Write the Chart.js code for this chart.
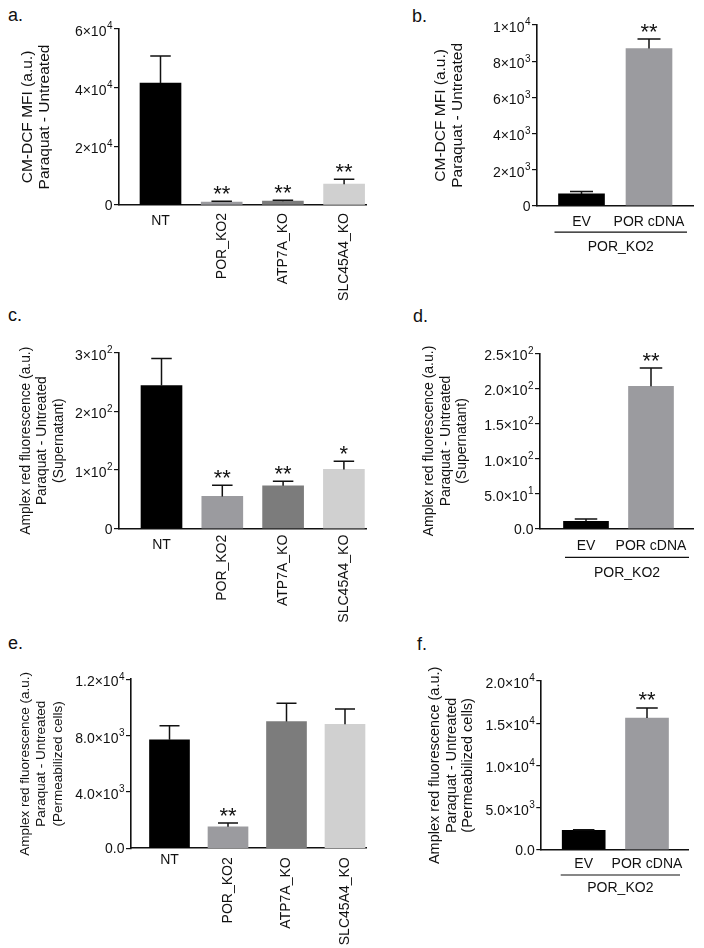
<!DOCTYPE html>
<html>
<head>
<meta charset="utf-8">
<script src="https://cdn.jsdelivr.net/npm/chart.js@4.4.1/dist/chart.umd.min.js"></script>
<style>
  body { margin: 0; background: #fff; width: 704px; height: 948px; position: relative; overflow: hidden;
         font-family: "Liberation Sans", Arial, sans-serif; }
  canvas { position: absolute; }
  .tag { position: absolute; font-size: 18px; line-height: 1; color: #111; }
</style>
</head>
<body>
<div class="tag" style="left:8px;top:6px">a.</div>
<div class="tag" style="left:412px;top:7px">b.</div>
<div class="tag" style="left:8px;top:306px">c.</div>
<div class="tag" style="left:413px;top:307px">d.</div>
<div class="tag" style="left:8px;top:634px">e.</div>
<div class="tag" style="left:417px;top:635px">f.</div>

<canvas id="chartA" width="400" height="320" style="left:0px;top:0px"></canvas>
<canvas id="chartB" width="304" height="300" style="left:400px;top:0px"></canvas>
<canvas id="chartC" width="400" height="330" style="left:0px;top:300px"></canvas>
<canvas id="chartD" width="304" height="320" style="left:400px;top:300px"></canvas>
<canvas id="chartE" width="400" height="328" style="left:0px;top:620px"></canvas>
<canvas id="chartF" width="304" height="328" style="left:400px;top:620px"></canvas>

<script>
const koLines = ["NT", "POR_KO2", "ATP7A_KO", "SLC45A4_KO"];
const rescue = ["EV", "POR cDNA"];
const rescueParent = "POR_KO2";
const koColors = ["#000000", "#9b9b9f", "#7c7c7c", "#d0d0d0"];
const rescueColors = ["#000000", "#9b9b9f"];

// a. CM-DCF MFI, knockouts
const aMean = [41600, 1000, 1300, 7100];
const aErr = [9200, 300, 300, 1700];
const aStars = ["", "**", "**", "**"];
const aTicks = [0, 20000, 40000, 60000];
const aTickLabels = ["0", "2×10^4", "4×10^4", "6×10^4"];

// b. CM-DCF MFI, rescue
const bMean = [650, 8700];
const bErr = [130, 520];
const bStars = ["", "**"];
const bTicks = [0, 2000, 4000, 6000, 8000, 10000];
const bTickLabels = ["0", "2×10^3", "4×10^3", "6×10^3", "8×10^3", "1×10^4"];

// c. Amplex red, supernatant, knockouts
const cMean = [244, 55, 73, 101];
const cErr = [46, 19, 8, 14];
const cStars = ["", "**", "**", "*"];
const cTicks = [0, 100, 200, 300];
const cTickLabels = ["0", "1×10^2", "2×10^2", "3×10^2"];

// d. Amplex red, supernatant, rescue
const dMean = [10.5, 203];
const dErr = [3.5, 26];
const dStars = ["", "**"];
const dTicks = [0, 50, 100, 150, 200, 250];
const dTickLabels = ["0.0", "5.0×10^1", "1.0×10^2", "1.5×10^2", "2.0×10^2", "2.5×10^2"];

// e. Amplex red, permeabilized cells, knockouts
const eMean = [7700, 1530, 9000, 8800];
const eErr = [1000, 260, 1300, 1100];
const eStars = ["", "**", "", ""];
const eTicks = [0, 4000, 8000, 12000];
const eTickLabels = ["0.0", "4.0×10^3", "8.0×10^3", "1.2×10^4"];

// f. Amplex red, permeabilized cells, rescue
const fMean = [2300, 15600];
const fErr = [60, 1200];
const fStars = ["", "**"];
const fTicks = [0, 5000, 10000, 15000, 20000];
const fTickLabels = ["0.0", "5.0×10^3", "1.0×10^4", "1.5×10^4", "2.0×10^4"];

const titleDCF = ["CM-DCF MFI (a.u.)", "Paraquat - Untreated"];
const titleSup = ["Amplex red fluorescence (a.u.)", "Paraquat - Untreated", "(Supernatant)"];
const titlePerm = ["Amplex red fluorescence (a.u.)", "Paraquat - Untreated", "(Permeabilized cells)"];

const ink = "#111";
const family = "'Liberation Sans', Arial, sans-serif";
const titleLH = 16.5;

function makePanel(p) {
  const cv = document.getElementById(p.id);
  const cx = parseFloat(cv.style.left), cy = parseFloat(cv.style.top);
  const [al, at, ar, ab] = p.area;
  const tickSize = p.tickSize || 14;

  // y tick labels with superscripts, error bars, stars, group labels
  const marks = {
    id: "marks",
    afterDatasetsDraw(chart) {
      const ctx = chart.ctx, xs = chart.scales.x, ys = chart.scales.y;
      ctx.save();
      ctx.strokeStyle = ink;
      ctx.fillStyle = ink;

      // tick labels
      ctx.textBaseline = "alphabetic";
      ctx.textAlign = "left";
      p.ticks.forEach((v, i) => {
        const y = ys.getPixelForValue(v);
        const [base, exp] = p.tickLabels[i].split("^");
        const right = ys.right - 6.5;
        ctx.font = tickSize + "px " + family;
        const wb = ctx.measureText(base).width;
        let we = 0;
        if (exp) {
          ctx.font = Math.round(tickSize * 0.72) + "px " + family;
          we = ctx.measureText(exp).width + 0.5;
          ctx.fillText(exp, right - we + 0.5, y + tickSize * 0.5 - tickSize * 0.47);
        }
        ctx.font = tickSize + "px " + family;
        const by = exp ? y + tickSize * 0.5 : y + tickSize * 0.36;
        ctx.fillText(base, right - we - wb, by);
      });

      ctx.lineWidth = 1.5;
      p.mean.forEach((m, i) => {
        const x = xs.getPixelForValue(i);
        const y0 = ys.getPixelForValue(m);
        const y1 = ys.getPixelForValue(m + p.err[i]);
        ctx.beginPath();
        ctx.moveTo(x, y0);
        ctx.lineTo(x, y1);
        ctx.moveTo(x - p.barW / 4, y1);
        ctx.lineTo(x + p.barW / 4, y1);
        ctx.stroke();
        if (p.stars[i]) {
          ctx.font = "22px " + family;
          ctx.textAlign = "center";
          ctx.textBaseline = "alphabetic";
          ctx.fillText(p.stars[i], x, y1 - 0.5);
        }
      });

      ctx.font = "14px " + family;
      p.groups.forEach((g, i) => {
        const x = xs.getPixelForValue(i);
        if (i >= p.rotateFrom) {
          ctx.save();
          ctx.translate(x, ys.bottom + p.rotGap);
          ctx.rotate(-Math.PI / 2);
          ctx.textAlign = "right";
          ctx.textBaseline = "middle";
          ctx.fillText(g, 0, 0);
          ctx.restore();
        } else {
          ctx.textAlign = "center";
          ctx.textBaseline = "middle";
          ctx.fillText(g, x, ys.bottom + p.labGap);
        }
      });

      if (p.parent) {
        const x0 = xs.getPixelForValue(0) - p.brL;
        const x1 = xs.getPixelForValue(p.groups.length - 1) + p.brR;
        ctx.lineWidth = 1.2;
        ctx.beginPath();
        ctx.moveTo(x0, ys.bottom + p.brY);
        ctx.lineTo(x1, ys.bottom + p.brY);
        ctx.stroke();
        ctx.textAlign = "center";
        ctx.textBaseline = "middle";
        ctx.fillText(p.parent, (x0 + x1) / 2, ys.bottom + p.parentY);
      }
      ctx.restore();
    }
  };

  return new Chart(cv, {
    type: "bar",
    data: {
      datasets: [{
        data: p.mean.map((v, i) => ({ x: i, y: v })),
        backgroundColor: p.colors,
        borderWidth: 0,
        barThickness: p.barW
      }]
    },
    options: {
      responsive: false,
      animation: false,
      devicePixelRatio: 1,
      layout: { padding: { left: 0, top: at - cy, right: cx + cv.width - ar, bottom: 0 } },
      plugins: { legend: { display: false }, tooltip: { enabled: false } },
      scales: {
        x: {
          type: "linear",
          offset: false,
          min: (al - p.x0) / p.step,
          max: (ar - p.x0) / p.step,
          grid: { display: false },
          ticks: { display: false },
          border: { color: ink, width: 1.6 },
          afterFit: (s) => { s.height = cy + cv.height - ab; }
        },
        y: {
          min: 0,
          max: p.ticks[p.ticks.length - 1],
          afterBuildTicks: (s) => { s.ticks = p.ticks.map((v) => ({ value: v })); },
          ticks: { display: false },
          grid: { drawOnChartArea: false, drawTicks: true, tickLength: 5, color: ink, lineWidth: 1.2 },
          border: { color: ink, width: 1.6 },
          title: {
            display: true,
            text: p.title,
            color: ink,
            font: { size: p.titleSize, family: family, lineHeight: titleLH / p.titleSize },
            padding: { top: p.titleX - cx - titleLH / 2, bottom: 0 }
          },
          afterFit: (s) => { s.width = al - cx; }
        }
      }
    },
    plugins: [marks]
  });
}

makePanel({ id: "chartA", area: [119, 29, 366, 205], x0: 160.5, step: 61.2, barW: 41, titleX: 28, titleSize: 15.5,
  groups: koLines, colors: koColors, mean: aMean, err: aErr, stars: aStars, ticks: aTicks, tickLabels: aTickLabels,
  title: titleDCF, rotateFrom: 1, labGap: 16, rotGap: 8 });

makePanel({ id: "chartB", area: [537, 25, 693, 205.7], x0: 581.5, step: 67.5, barW: 46, titleX: 441, titleSize: 15.5,
  groups: rescue, colors: rescueColors, mean: bMean, err: bErr, stars: bStars, ticks: bTicks, tickLabels: bTickLabels,
  title: titleDCF, rotateFrom: 99, labGap: 16, parent: rescueParent, brL: 27, brR: 38, brY: 26.5, parentY: 41 });

makePanel({ id: "chartC", area: [119, 352.7, 366, 528.7], x0: 161.5, step: 60.8, barW: 41, titleX: 26, titleSize: 13.8,
  groups: koLines, colors: koColors, mean: cMean, err: cErr, stars: cStars, ticks: cTicks, tickLabels: cTickLabels,
  title: titleSup, rotateFrom: 1, labGap: 16, rotGap: 6 });

makePanel({ id: "chartD", area: [540, 353.3, 693.7, 528.7], x0: 586, step: 65, barW: 45, titleX: 429.5, titleSize: 14,
  groups: rescue, colors: rescueColors, mean: dMean, err: dErr, stars: dStars, ticks: dTicks, tickLabels: dTickLabels,
  title: titleSup, rotateFrom: 99, labGap: 17, parent: rescueParent, brL: 21, brR: 38, brY: 28.6, parentY: 44 });

makePanel({ id: "chartE", area: [131, 679.3, 366, 848.3], x0: 169.5, step: 58.5, barW: 40, titleX: 25, titleSize: 13.5,
  groups: koLines, colors: koColors, mean: eMean, err: eErr, stars: eStars, ticks: eTicks, tickLabels: eTickLabels,
  title: titlePerm, rotateFrom: 1, labGap: 12, rotGap: 9 });

makePanel({ id: "chartF", area: [541.3, 681, 688.7, 849.7], x0: 583.7, step: 63.3, barW: 43, titleX: 435, titleSize: 14.5,
  groups: rescue, colors: rescueColors, mean: fMean, err: fErr, stars: fStars, ticks: fTicks, tickLabels: fTickLabels,
  title: titlePerm, rotateFrom: 99, labGap: 14.6, parent: rescueParent, brL: 23, brR: 33, brY: 25.3, parentY: 38.6 });
</script>
</body>
</html>
